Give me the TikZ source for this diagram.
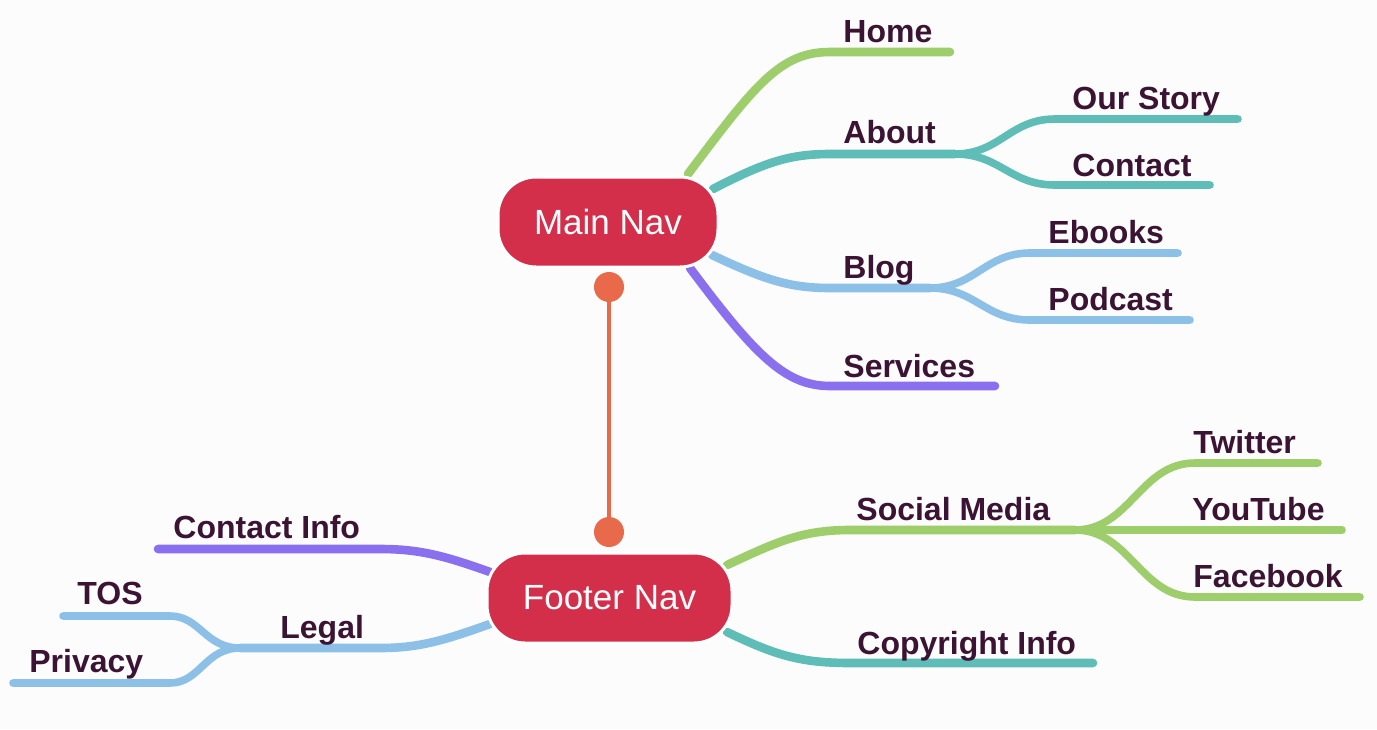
\documentclass[tikz,border=0pt]{standalone}
\usepackage{fontspec}
\setmainfont{Liberation Sans}
\definecolor{cgreen}{HTML}{9ECD6B}
\definecolor{cteal}{HTML}{5EBDB7}
\definecolor{cblue}{HTML}{8CC0E6}
\definecolor{cpurple}{HTML}{8A6FEF}
\definecolor{cred}{HTML}{D32F4A}
\definecolor{corange}{HTML}{E86A4A}
\definecolor{ctext}{HTML}{3B1433}
\definecolor{cbg}{HTML}{FDFCFD}
\tikzset{
  lbl/.style={anchor=base west, inner sep=0pt, text=ctext, font=\fontsize{16}{18}\selectfont\bfseries},
  br/.style={line width=4.3pt, line cap=round},
  sub/.style={line width=3.8pt, line cap=round},
  hub/.style={rounded corners=19pt, fill=cred, draw=white, line width=1.5pt, text=white,
    font=\fontsize{17.5}{20}\selectfont, minimum height=45pt, inner sep=0pt},
  dot/.style={circle, fill=corange, minimum size=15pt, inner sep=0pt},
}
\begin{document}
\begin{tikzpicture}[x=0.5pt,y=-0.5pt]
\fill[cbg] (0,0) rectangle (1377,729);
\useasboundingbox (0,0) rectangle (1377,729);
% coordinates
\coordinate (homeA) at (830,52);  \coordinate (homeB) at (950,52);
\coordinate (aboutA) at (830,154); \coordinate (aboutF) at (955,154);
\coordinate (storyA) at (1055,119); \coordinate (storyB) at (1238,119);
\coordinate (contA) at (1055,185); \coordinate (contB) at (1210,185);
\coordinate (blogA) at (830,288); \coordinate (blogF) at (930,288);
\coordinate (ebA) at (1030,253); \coordinate (ebB) at (1178,253);
\coordinate (podA) at (1030,320); \coordinate (podB) at (1190,320);
\coordinate (servA) at (830,386); \coordinate (servB) at (995,386);
\coordinate (socA) at (850,530); \coordinate (socF) at (1075,530);
\coordinate (twA) at (1195,463); \coordinate (twB) at (1318,463);
\coordinate (ytB) at (1342,530);
\coordinate (fbA) at (1195,597); \coordinate (fbB) at (1360,597);
\coordinate (copA) at (850,663); \coordinate (copB) at (1093,663);
\coordinate (ciA) at (380,549); \coordinate (ciB) at (158,549);
\coordinate (legA) at (380,648); \coordinate (legF) at (240,648);
\coordinate (tosA) at (170,616); \coordinate (tosB) at (63,616);
\coordinate (prA) at (170,683); \coordinate (prB) at (13,683);
% main nav branches
\draw[br,cgreen] (688,174) .. controls (755,85) and (780,52) .. (homeA) -- (homeB);
\draw[br,cteal] (713,189) .. controls (765,162) and (790,154) .. (aboutA) -- (aboutF);
\draw[sub,cteal] (aboutF) .. controls (1000,154) and (1010,119) .. (storyA) -- (storyB);
\draw[sub,cteal] (aboutF) .. controls (1000,154) and (1010,185) .. (contA) -- (contB);
\draw[br,cblue] (712,255) .. controls (765,280) and (790,288) .. (blogA) -- (blogF);
\draw[sub,cblue] (blogF) .. controls (975,288) and (985,253) .. (ebA) -- (ebB);
\draw[sub,cblue] (blogF) .. controls (975,288) and (985,320) .. (podA) -- (podB);
\draw[br,cpurple] (690,268) .. controls (755,355) and (785,386) .. (servA) -- (servB);
% footer nav branches
\draw[br,cgreen] (727,565) .. controls (775,543) and (800,530) .. (socA) -- (socF);
\draw[sub,cgreen] (socF) .. controls (1130,530) and (1140,463) .. (twA) -- (twB);
\draw[sub,cgreen] (socF) -- (ytB);
\draw[sub,cgreen] (socF) .. controls (1130,530) and (1140,597) .. (fbA) -- (fbB);
\draw[br,cteal] (727,632) .. controls (775,655) and (800,663) .. (copA) -- (copB);
\draw[br,cpurple] (490,572) .. controls (445,556) and (420,549) .. (ciA) -- (ciB);
\draw[br,cblue] (490,624) .. controls (445,640) and (420,648) .. (legA) -- (legF);
\draw[sub,cblue] (legF) .. controls (205,648) and (200,616) .. (tosA) -- (tosB);
\draw[sub,cblue] (legF) .. controls (205,648) and (200,683) .. (prA) -- (prB);
% hubs
\node[hub, minimum width=110pt] (main) at (608,222) {Main Nav};
\node[hub, minimum width=122.5pt] (footer) at (609.5,598) {Footer Nav};
\node[dot] (d1) at (609,287) {};
\node[dot] (d2) at (609,532) {};
\draw[corange, line width=2.2pt] (d1) -- (d2);
% labels
\node[lbl] (lhome) at (843,42) {Home};
\node[lbl] (labout) at (843,143) {About};
\node[lbl] (lstory) at (1072,109) {Our Story};
\node[lbl] (lcont) at (1072,176) {Contact};
\node[lbl] (lblog) at (843,278) {Blog};
\node[lbl] (leb) at (1048,243) {Ebooks};
\node[lbl] (lpod) at (1048,310) {Podcast};
\node[lbl] (lserv) at (843,377) {Services};
\node[lbl] (lsoc) at (856,520) {Social Media};
\node[lbl] (ltw) at (1193,453) {Twitter};
\node[lbl] (lyt) at (1192,520) {YouTube};
\node[lbl] (lfb) at (1193,587) {Facebook};
\node[lbl] (lcop) at (857,654) {Copyright Info};
\node[lbl] (lci) at (173,538) {Contact Info};
\node[lbl] (ltos) at (77,604) {TOS};
\node[lbl] (lleg) at (280,638) {Legal};
\node[lbl] (lpr) at (29,672) {Privacy};
\end{tikzpicture}
\end{document}
